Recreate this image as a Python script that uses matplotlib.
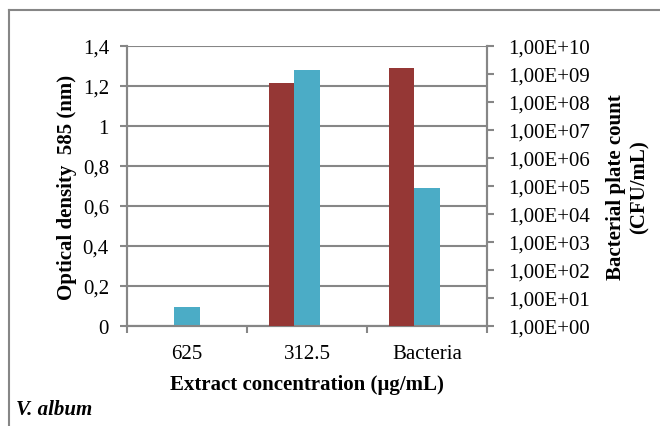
import matplotlib.pyplot as plt
from matplotlib.lines import Line2D
import numpy as np

categories = ["625", "312.5", "Bacteria"]
optical_density = [0.094, 1.28, 0.69]          # cyan bars, left axis
plate_count = [1.0, 4.9e8, 1.6e9]              # red bars, right log axis (CFU/mL)
left_ticks = [0, 0.2, 0.4, 0.6, 0.8, 1.0, 1.2, 1.4]
left_labels = ["0", "0,2", "0,4", "0,6", "0,8", "1", "1,2", "1,4"]
right_exps = list(range(0, 11))

plt.rcParams['font.family'] = ['Liberation Serif', 'DejaVu Serif']
grey = "#868686"
red = "#953735"
cyan = "#4BACC6"
fs = 15

fig = plt.figure(figsize=(6.6, 4.27), dpi=100)
ax = fig.add_axes([127/660, 1 - 327/427, 360/660, 280/427])
ax2 = ax.twinx()

x = np.arange(len(categories))
w = 0.21
ax.bar(x, optical_density, width=w, color=cyan, zorder=3)
ax2.bar(x - w, np.array(plate_count) - 1, bottom=1, width=w, color=red, zorder=3)

ax.set_xlim(-0.5, 2.5)
ax.set_ylim(0, 1.4)
ax.set_yticks(left_ticks)
ax.set_yticklabels(left_labels, fontsize=fs)
ax.yaxis.grid(True, color=grey, linewidth=1.5, zorder=0)
ax.set_axisbelow(True)

ax.set_xticks(x)
ax.set_xticklabels(categories, fontsize=fs)
ax.set_xticks([-0.5, 0.5, 1.5, 2.5], minor=True)
ax.tick_params(axis='x', which='major', length=0, pad=13)
ax.tick_params(axis='x', which='minor', length=5, width=1.5, color=grey, direction='out')
ax.tick_params(axis='y', length=5, width=1.5, color=grey, direction='out', pad=8)

ax2.set_yscale('log')
ax2.set_ylim(1, 1e10)
ax2.set_yticks([10.0 ** e for e in right_exps])
ax2.set_yticklabels(["1,00E+%02d" % e for e in right_exps], fontsize=fs)
ax2.yaxis.set_minor_locator(plt.NullLocator())
ax2.tick_params(axis='y', length=5, width=1.5, color=grey, direction='out', pad=10)

for a in (ax, ax2):
    a.spines['top'].set_visible(False)
    for s in ('left', 'right', 'bottom'):
        a.spines[s].set_color(grey)
        a.spines[s].set_linewidth(1.5)

ax.set_ylabel("Optical density  585 (nm)", fontsize=fs, fontweight='bold', labelpad=4)
ax2.set_ylabel("Bacterial plate count\n(CFU/mL)", fontsize=fs, fontweight='bold',
               rotation=90, labelpad=12)
ax.set_xlabel("Extract concentration (µg/mL)", fontsize=fs, fontweight='bold', labelpad=8)

fig.text(16/660, 1 - 410/427, "V. album", fontsize=fs, fontweight='bold',
         fontstyle='italic', va='center', ha='left')

fig.add_artist(Line2D([9/660, 1], [1 - 11/427, 1 - 11/427], color=grey, linewidth=1.5,
                      transform=fig.transFigure))
fig.add_artist(Line2D([9/660, 9/660], [0, 1 - 11/427], color=grey, linewidth=1.5,
                      transform=fig.transFigure))

fig.savefig("out.png", dpi=100)
